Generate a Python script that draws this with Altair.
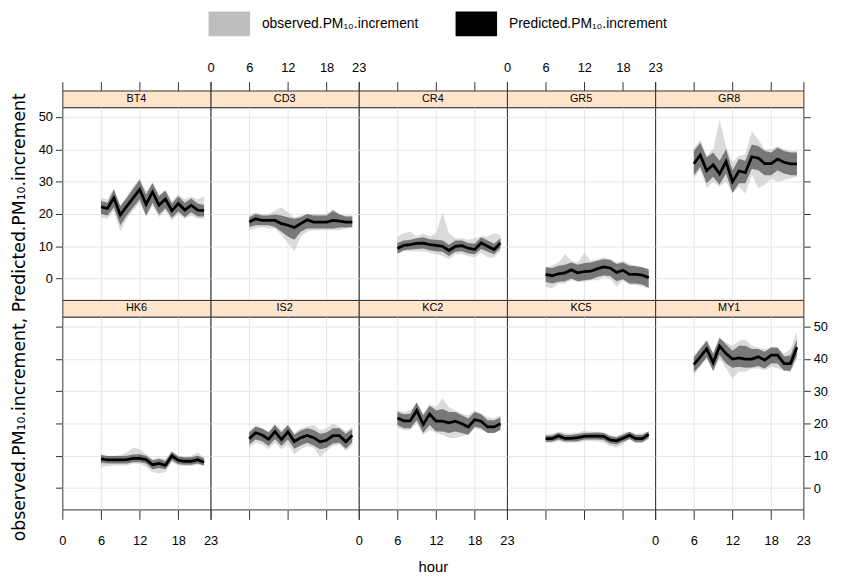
import altair as alt
import pandas as pd

# ---------------- data ----------------
hours = list(range(6, 23))
sites = ["BT4", "CD3", "CR4", "GR5", "GR8", "HK6", "IS2", "KC2", "KC5", "MY1"]
OBS = "observed.PM₁₀.increment"
PRED = "Predicted.PM₁₀.increment"
x_ticks = [0, 6, 12, 18, 23]
y_ticks = [0, 10, 20, 30, 40, 50]

bt4_pred = [22.2, 21.7, 25.0, 19.7, 22.4, 25.0, 27.6, 23.0, 26.8, 22.7, 24.6, 21.0, 23.2, 21.2, 22.7, 21.2, 21.0]
bt4_pred_lo = [20.0, 19.5, 22.0, 16.5, 19.5, 22.0, 24.5, 19.5, 23.5, 19.8, 21.8, 18.8, 20.8, 19.0, 20.5, 19.2, 19.2]
bt4_pred_hi = [24.0, 23.5, 27.5, 22.5, 25.0, 27.8, 30.5, 26.0, 29.5, 25.5, 27.2, 23.2, 25.5, 23.5, 24.8, 23.2, 22.8]
bt4_obs_lo = [19.0, 18.5, 21.0, 14.5, 18.5, 21.0, 23.5, 19.0, 22.5, 19.0, 21.0, 18.0, 20.0, 18.5, 19.5, 18.5, 18.5]
bt4_obs_hi = [25.0, 24.5, 28.0, 22.5, 25.5, 28.5, 31.0, 27.0, 30.0, 26.0, 27.5, 24.0, 26.0, 24.5, 25.5, 24.5, 25.5]

cd3_pred = [17.5, 18.5, 18.0, 18.0, 18.0, 17.0, 16.5, 15.8, 17.0, 18.2, 17.5, 17.5, 17.5, 18.0, 17.8, 17.5, 17.5]
cd3_pred_lo = [16.0, 16.5, 16.5, 16.5, 16.0, 14.5, 13.0, 12.0, 14.5, 15.5, 15.5, 15.5, 15.5, 15.5, 15.8, 15.8, 16.0]
cd3_pred_hi = [19.0, 20.0, 19.5, 19.5, 19.8, 19.5, 19.0, 18.5, 19.0, 20.0, 19.5, 19.5, 19.5, 21.0, 19.8, 19.2, 19.2]
cd3_obs_lo = [15.0, 15.5, 16.0, 15.5, 15.5, 13.5, 11.0, 8.5, 13.0, 14.5, 15.0, 15.0, 15.0, 15.0, 15.0, 15.5, 15.5]
cd3_obs_hi = [19.5, 20.5, 20.0, 20.0, 21.0, 22.0, 20.5, 19.0, 19.5, 20.0, 20.0, 20.0, 20.0, 21.5, 20.0, 19.5, 19.5]

cr4_pred = [9.3, 10.3, 10.5, 10.9, 11.0, 10.5, 10.3, 10.0, 8.7, 10.0, 10.2, 9.4, 9.0, 11.0, 10.0, 9.0, 11.0]
cr4_pred_lo = [7.8, 8.8, 9.0, 9.2, 9.3, 8.8, 8.5, 8.3, 7.0, 8.3, 8.5, 7.8, 7.5, 9.2, 8.3, 7.5, 9.5]
cr4_pred_hi = [11.0, 11.8, 12.0, 12.5, 12.8, 12.2, 12.0, 11.8, 10.5, 11.8, 11.8, 11.0, 10.8, 12.8, 11.8, 10.8, 12.5]
cr4_obs_lo = [7.5, 8.5, 8.5, 8.5, 8.5, 8.0, 7.5, 7.0, 6.0, 7.5, 7.5, 7.0, 6.5, 8.0, 6.5, 6.5, 8.5]
cr4_obs_hi = [13.0, 14.0, 14.5, 13.0, 14.0, 13.0, 14.0, 20.5, 14.0, 12.5, 12.5, 12.0, 12.5, 13.0, 13.0, 14.0, 13.5]

gr5_pred = [1.3, 0.9, 1.5, 1.8, 2.7, 1.8, 2.2, 2.3, 3.0, 3.6, 3.3, 1.9, 2.6, 1.3, 1.3, 1.1, 0.3]
gr5_pred_lo = [-1.0, -1.5, -1.0, -0.8, 0.0, -0.8, -0.5, -0.3, 0.5, 1.0, 0.8, -0.8, -0.2, -1.5, -1.5, -1.8, -2.8]
gr5_pred_hi = [3.5, 3.3, 4.0, 4.3, 5.0, 4.3, 4.8, 5.0, 5.5, 6.0, 5.8, 4.5, 5.0, 4.0, 3.8, 3.5, 3.0]
gr5_obs_lo = [-2.5, -3.0, -1.5, -1.5, -0.5, -1.0, -1.0, -0.5, -0.5, 0.5, 0.0, -2.5, -0.5, -2.0, -2.0, -2.5, -3.0]
gr5_obs_hi = [3.5, 4.0, 5.0, 7.5, 5.5, 5.0, 8.0, 5.5, 6.0, 6.5, 6.0, 5.0, 5.5, 4.5, 4.0, 3.5, 2.5]

gr8_pred = [35.5, 38.2, 33.4, 35.2, 32.4, 36.2, 30.0, 33.3, 32.8, 37.7, 37.3, 35.6, 35.6, 37.0, 36.0, 35.5, 35.5]
gr8_pred_lo = [32.0, 34.5, 29.5, 31.5, 29.0, 32.5, 26.5, 29.5, 29.5, 34.0, 33.5, 32.0, 32.0, 33.5, 32.5, 32.0, 32.0]
gr8_pred_hi = [39.5, 42.0, 37.5, 39.0, 36.5, 40.0, 33.5, 37.0, 36.5, 41.5, 41.0, 39.5, 39.0, 40.5, 39.5, 39.0, 39.0]
gr8_obs_lo = [31.0, 33.5, 28.0, 30.0, 28.5, 30.0, 26.5, 28.5, 26.3, 32.0, 28.0, 29.0, 31.0, 30.0, 30.5, 31.0, 31.5]
gr8_obs_hi = [40.0, 43.0, 38.0, 40.0, 49.0, 41.0, 36.0, 38.0, 38.5, 45.5, 43.0, 40.0, 40.0, 41.0, 40.0, 39.5, 39.5]

hk6_pred = [9.0, 8.7, 8.7, 8.7, 8.8, 9.2, 9.2, 8.8, 7.2, 7.6, 7.0, 10.0, 8.6, 8.3, 8.3, 8.8, 8.0]
hk6_pred_lo = [7.8, 7.6, 7.6, 7.6, 7.6, 8.0, 8.0, 7.6, 5.8, 6.2, 5.8, 8.6, 7.4, 7.2, 7.2, 7.6, 7.0]
hk6_pred_hi = [10.2, 9.9, 9.9, 9.9, 10.0, 10.4, 10.5, 10.0, 8.6, 9.0, 8.4, 11.2, 9.8, 9.5, 9.5, 10.0, 9.2]
hk6_obs_lo = [6.5, 6.8, 7.0, 7.0, 7.0, 7.5, 7.5, 6.5, 5.0, 4.5, 5.0, 8.0, 7.0, 6.8, 6.8, 7.2, 6.8]
hk6_obs_hi = [10.5, 10.0, 10.0, 10.2, 11.0, 12.5, 12.0, 10.5, 9.0, 9.5, 9.0, 11.5, 10.0, 9.5, 10.0, 11.0, 9.5]

is2_pred = [15.3, 17.1, 16.4, 15.1, 17.5, 15.0, 17.4, 14.4, 15.6, 16.3, 15.6, 14.3, 14.8, 16.2, 16.2, 14.3, 16.3]
is2_pred_lo = [13.5, 15.0, 14.5, 13.0, 15.2, 13.0, 15.0, 12.2, 13.2, 14.0, 13.2, 12.0, 12.5, 13.8, 14.0, 12.2, 14.2]
is2_pred_hi = [17.2, 19.0, 18.4, 17.2, 19.5, 17.2, 19.5, 16.5, 17.8, 18.5, 18.0, 16.8, 17.2, 18.5, 18.5, 16.8, 18.3]
is2_obs_lo = [12.5, 14.0, 13.5, 12.0, 14.0, 12.0, 13.5, 10.5, 12.0, 13.0, 12.5, 9.5, 11.5, 13.0, 13.5, 11.5, 13.0]
is2_obs_hi = [17.5, 19.5, 18.5, 17.5, 20.0, 18.0, 19.5, 17.0, 18.5, 19.0, 19.5, 18.0, 18.5, 20.0, 19.0, 17.5, 19.0]

kc2_pred = [21.7, 20.8, 20.8, 24.0, 19.7, 22.9, 20.7, 20.7, 20.2, 20.7, 19.9, 18.9, 21.2, 20.7, 18.9, 18.9, 19.9]
kc2_pred_lo = [19.5, 18.5, 18.5, 21.0, 17.0, 19.5, 17.5, 17.5, 17.0, 17.5, 17.0, 16.5, 19.0, 18.5, 17.0, 17.0, 18.0]
kc2_pred_hi = [23.5, 22.8, 23.0, 26.5, 22.5, 25.5, 24.0, 24.5, 23.5, 23.5, 22.5, 21.5, 23.5, 22.8, 21.0, 21.0, 21.8]
kc2_obs_lo = [18.5, 18.0, 18.0, 20.0, 16.5, 18.0, 17.0, 16.5, 15.5, 15.5, 16.0, 16.5, 18.5, 18.0, 17.0, 17.0, 18.0]
kc2_obs_hi = [24.0, 23.5, 24.0, 26.5, 23.0, 26.0, 25.0, 27.8, 25.0, 24.0, 23.0, 22.5, 24.0, 23.0, 22.0, 21.5, 22.5]

kc5_pred = [15.3, 15.3, 16.1, 15.4, 15.4, 15.6, 16.0, 16.1, 16.1, 16.0, 14.9, 14.6, 15.4, 16.3, 15.3, 15.3, 16.6]
kc5_pred_lo = [14.3, 14.3, 15.0, 14.4, 14.4, 14.5, 15.0, 15.0, 15.0, 14.9, 13.8, 13.5, 14.3, 15.2, 14.2, 14.2, 15.5]
kc5_pred_hi = [16.3, 16.3, 17.1, 16.4, 16.4, 16.7, 17.0, 17.1, 17.2, 17.0, 16.0, 15.7, 16.5, 17.4, 16.4, 16.4, 17.6]
kc5_obs_lo = [14.0, 14.0, 14.5, 14.0, 14.0, 14.0, 14.5, 14.5, 14.5, 14.0, 13.0, 12.5, 13.5, 15.0, 14.0, 14.0, 15.0]
kc5_obs_hi = [16.5, 16.8, 17.5, 17.0, 17.0, 17.2, 17.8, 17.5, 17.5, 17.2, 16.5, 16.0, 17.0, 17.5, 16.8, 17.0, 17.5]

my1_pred = [38.2, 40.6, 43.1, 38.8, 43.9, 41.6, 39.9, 40.3, 39.9, 39.9, 40.6, 39.6, 41.1, 41.1, 38.5, 38.5, 43.6]
my1_pred_lo = [35.8, 38.0, 40.5, 36.3, 41.2, 38.5, 37.2, 37.5, 37.2, 37.3, 37.8, 37.0, 38.5, 38.5, 36.3, 36.3, 41.0]
my1_pred_hi = [40.5, 43.0, 45.5, 41.5, 46.5, 44.5, 42.5, 44.0, 44.0, 43.0, 43.0, 42.2, 43.5, 43.5, 40.8, 41.0, 46.0]
my1_obs_lo = [35.0, 37.5, 40.0, 36.0, 40.0, 37.0, 34.0, 36.0, 36.0, 37.0, 37.0, 36.5, 37.5, 37.0, 36.5, 36.0, 40.0]
my1_obs_hi = [41.0, 43.5, 46.0, 42.0, 46.5, 45.0, 44.0, 45.5, 46.0, 44.0, 43.5, 43.0, 43.5, 43.5, 41.5, 43.0, 48.5]

site_data = {
    "BT4": (bt4_pred, bt4_pred_lo, bt4_pred_hi, bt4_obs_lo, bt4_obs_hi),
    "CD3": (cd3_pred, cd3_pred_lo, cd3_pred_hi, cd3_obs_lo, cd3_obs_hi),
    "CR4": (cr4_pred, cr4_pred_lo, cr4_pred_hi, cr4_obs_lo, cr4_obs_hi),
    "GR5": (gr5_pred, gr5_pred_lo, gr5_pred_hi, gr5_obs_lo, gr5_obs_hi),
    "GR8": (gr8_pred, gr8_pred_lo, gr8_pred_hi, gr8_obs_lo, gr8_obs_hi),
    "HK6": (hk6_pred, hk6_pred_lo, hk6_pred_hi, hk6_obs_lo, hk6_obs_hi),
    "IS2": (is2_pred, is2_pred_lo, is2_pred_hi, is2_obs_lo, is2_obs_hi),
    "KC2": (kc2_pred, kc2_pred_lo, kc2_pred_hi, kc2_obs_lo, kc2_obs_hi),
    "KC5": (kc5_pred, kc5_pred_lo, kc5_pred_hi, kc5_obs_lo, kc5_obs_hi),
    "MY1": (my1_pred, my1_pred_lo, my1_pred_hi, my1_obs_lo, my1_obs_hi),
}

rows = []
for s, (pr, plo, phi, olo, ohi) in site_data.items():
    for i, h in enumerate(hours):
        rows.append({"site": s, "hour": h, "series": OBS, "lo": olo[i], "hi": ohi[i], "mid": None})
        rows.append({"site": s, "hour": h, "series": PRED, "lo": plo[i], "hi": phi[i], "mid": pr[i]})
df = pd.DataFrame(rows)

# ---------------- style ----------------
NARROW = "Liberation Sans Narrow, Arial Narrow, Liberation Sans, sans-serif"
W, STRIP_H, PLOT_H = 150, 17, 195
FRAME = "#333333"
GRID = "#E6E6E6"
STRIP_FILL = "#FFE5CC"
xscale = alt.Scale(domain=[0, 23], nice=False, zero=False)
yscale = alt.Scale(domain=[-6.6, 53.0], nice=False, zero=False)
xgrid_color = {"condition": {"test": "datum.value == 0 || datum.value == 23", "value": "transparent"},
               "value": GRID}

legend = alt.Legend(title=None, orient="none", legendX=156.5, legendY=-80, direction="horizontal",
                    symbolType="M-1.68,-1H1.68V1H-1.68Z", symbolSize=625, symbolStrokeWidth=0,
                    symbolOpacity=1, labelFont=NARROW, labelFontSize=14, labelColor="black",
                    labelOffset=20.5, labelLimit=0, columnPadding=37, padding=0)
fill_scale = alt.Scale(domain=[OBS, PRED], range=["#BEBEBE", "#000000"])


def strip(site, r, c):
    if r == 0:
        ax = alt.Axis(orient="top", values=x_ticks, ticks=True, tickSize=9, tickColor=FRAME,
                      labels=(c in (1, 3)), labelFont=NARROW, labelFontSize=13, labelColor="black",
                      labelPadding=7, labelFlush=False, labelOverlap=False, domain=False,
                      grid=False, title=None)
    else:
        ax = None
    return (
        alt.Chart(pd.DataFrame({"site": [site]}))
        .mark_text(font=NARROW, fontSize=11, color="black", baseline="middle")
        .encode(x=alt.XDatum(11.5, type="quantitative", scale=xscale, axis=ax),
                y=alt.value(STRIP_H / 2), text="site:N")
        .properties(width=W, height=STRIP_H,
                    view=alt.ViewBackground(fill=STRIP_FILL, stroke=FRAME))
    )


def panel(site, r, c):
    d = df[df.site == site]
    if r == 0:
        xa = alt.Axis(orient="bottom", values=[6, 12, 18], ticks=False, labels=False, domain=False,
                      grid=True, gridColor=GRID, title=None)
    else:
        if c == 2:
            kw = dict(title="hour", titleFont=NARROW, titleFontSize=15, titleFontWeight="normal",
                      titleColor="black", titleY=58, titleBaseline="middle")
        else:
            kw = dict(title=None)
        xa = alt.Axis(orient="bottom", values=x_ticks, ticks=True, tickSize=10, tickColor=FRAME,
                      labels=(c in (0, 2, 4)), labelFont=NARROW, labelFontSize=13,
                      labelColor="black", labelPadding=16, labelFlush=False, labelOverlap=False,
                      domain=False, grid=True, gridColor=xgrid_color, **kw)
    if c == 0:
        kw = dict(title=None)
        if r == 1:
            kw = dict(title=f"{OBS}, {PRED}", titleFont="DejaVu Sans",
                      titleFontSize=17.5, titleFontWeight="normal", titleColor="black",
                      titleAngle=270, titleX=-43, titleY=0, titleAlign="center",
                      titleBaseline="middle")
        ya = alt.Axis(orient="left", values=y_ticks, ticks=True, tickSize=7, tickColor=FRAME,
                      labels=(r == 0), labelFont=NARROW, labelFontSize=13, labelColor="black",
                      labelPadding=3, domain=False, grid=True, gridColor=GRID, **kw)
    elif c == 4:
        ya = alt.Axis(orient="right", values=y_ticks, ticks=True, tickSize=7, tickColor=FRAME,
                      labels=(r == 1), labelFont=NARROW, labelFontSize=13, labelColor="black",
                      labelPadding=3, domain=False, grid=True, gridColor=GRID, title=None)
    else:
        ya = alt.Axis(orient="left", values=y_ticks, ticks=False, labels=False, domain=False,
                      grid=True, gridColor=GRID, title=None)

    x = alt.X("hour:Q", scale=xscale, axis=xa)
    obs = alt.Chart(d[d.series == OBS]).mark_area(opacity=0.55).encode(
        x=x, y=alt.Y("lo:Q", scale=yscale, axis=ya), y2="hi:Q",
        fill=alt.Fill("series:N", scale=fill_scale, legend=legend))
    pred = alt.Chart(d[d.series == PRED]).mark_area(opacity=0.45).encode(
        x=x, y=alt.Y("lo:Q", scale=yscale, axis=ya), y2="hi:Q",
        fill=alt.Fill("series:N", scale=fill_scale, legend=legend))
    line = alt.Chart(d[d.series == PRED]).mark_line(color="black", strokeWidth=2.8).encode(
        x=x, y=alt.Y("mid:Q", scale=yscale, axis=ya))
    return alt.layer(obs, pred, line).properties(
        width=W, height=PLOT_H, view=alt.ViewBackground(fill="white", stroke=FRAME))


cells = []
for r in range(2):
    for c in range(5):
        cells.append(strip(sites[r * 5 + c], r, c))
    for c in range(5):
        cells.append(panel(sites[r * 5 + c], r, c))

chart = alt.concat(*cells, columns=5, spacing=0, bounds="flush", align="each").properties(
    padding={"left": 2, "top": 0, "right": 5, "bottom": 5},
    background="white",
)

chart.save("out.html", embed_options={"renderer": "svg", "actions": False})
